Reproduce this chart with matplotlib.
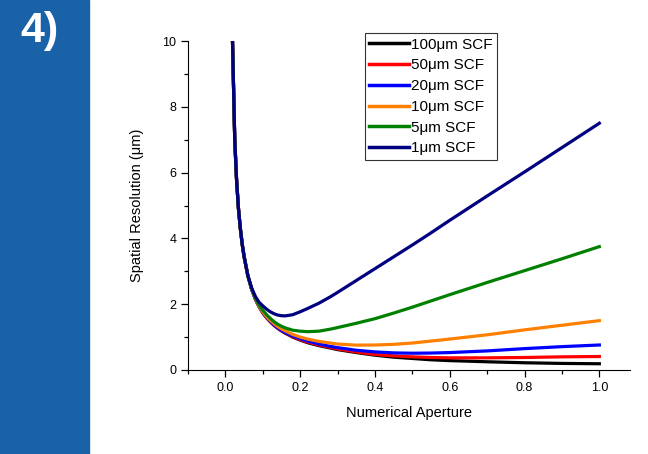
import matplotlib as mpl
mpl.use('Agg')
import matplotlib.pyplot as plt
from matplotlib.ticker import MultipleLocator
from matplotlib.patches import Rectangle

plt.rcParams['font.family'] = ['Liberation Sans', 'DejaVu Sans']

# numerical aperture values
na = [0.019, 0.025, 0.03, 0.035, 0.04, 0.045, 0.05, 0.06, 0.07, 0.08, 0.09,
      0.10, 0.11, 0.12, 0.13, 0.14, 0.15, 0.16, 0.18, 0.20, 0.22, 0.25,
      0.28, 0.30, 0.35, 0.40, 0.45, 0.50, 0.55, 0.60, 0.70, 0.80, 0.90, 1.00]

# spatial resolution (um) per SCF thickness
res_100 = [10.0, 7.0, 5.75, 4.9, 4.3, 3.82, 3.45, 2.87, 2.46, 2.16, 1.93,
           1.74, 1.59, 1.47, 1.36, 1.27, 1.19, 1.12, 1.0, 0.91, 0.83, 0.74,
           0.67, 0.62, 0.53, 0.45, 0.39, 0.35, 0.31, 0.285, 0.25, 0.22, 0.20, 0.19]
res_50 = [10.0, 7.0, 5.75, 4.9, 4.3, 3.82, 3.45, 2.87, 2.46, 2.16, 1.93,
          1.74, 1.59, 1.47, 1.36, 1.27, 1.19, 1.13, 1.01, 0.92, 0.85, 0.76,
          0.69, 0.64, 0.55, 0.47, 0.43, 0.40, 0.38, 0.37, 0.37, 0.38, 0.40, 0.41]
res_20 = [10.0, 7.0, 5.75, 4.9, 4.3, 3.82, 3.45, 2.87, 2.46, 2.16, 1.93,
          1.75, 1.60, 1.48, 1.37, 1.28, 1.20, 1.14, 1.03, 0.95, 0.88, 0.79,
          0.72, 0.68, 0.60, 0.55, 0.52, 0.51, 0.515, 0.53, 0.58, 0.65, 0.71, 0.76]
res_10 = [10.0, 7.0, 5.75, 4.9, 4.3, 3.82, 3.45, 2.87, 2.47, 2.17, 1.94,
          1.77, 1.62, 1.51, 1.41, 1.32, 1.25, 1.19, 1.08, 1.00, 0.94, 0.87,
          0.82, 0.79, 0.755, 0.76, 0.78, 0.82, 0.88, 0.94, 1.07, 1.22, 1.36, 1.50]
res_5 = [10.0, 7.0, 5.75, 4.9, 4.3, 3.82, 3.45, 2.87, 2.48, 2.19, 1.97,
         1.82, 1.68, 1.57, 1.47, 1.39, 1.33, 1.28, 1.21, 1.18, 1.165, 1.18,
         1.24, 1.29, 1.42, 1.56, 1.73, 1.91, 2.10, 2.29, 2.66, 3.02, 3.38, 3.75]
res_1 = [10.0, 7.0, 5.75, 4.9, 4.3, 3.82, 3.45, 2.87, 2.50, 2.24, 2.06,
         1.95, 1.85, 1.77, 1.71, 1.67, 1.65, 1.645, 1.68, 1.77, 1.87, 2.03,
         2.22, 2.36, 2.72, 3.08, 3.44, 3.80, 4.17, 4.55, 5.29, 6.02, 6.76, 7.50]

labels = ['100μm SCF', '50μm SCF', '20μm SCF', '10μm SCF', '5μm SCF', '1μm SCF']
colors = ['#000000', '#ff0000', '#0000ff', '#ff8000', '#008000', '#000080']
series = [res_100, res_50, res_20, res_10, res_5, res_1]

fig = plt.figure(figsize=(6.48, 4.54), dpi=100)

# blue side panel
fig.patches.append(Rectangle((0, 0), 89 / 648, 1, transform=fig.transFigure,
                             color='#1a62a8', zorder=0))
fig.text(20 / 648, 1 - 31 / 454, '4)', color='white', fontsize=31,
         fontweight='bold', va='center', ha='left')

ax = fig.add_axes([188 / 648, 84 / 454, 442 / 648, 329 / 454])
for y, lab, c in zip(series, labels, colors):
    ax.plot(na, y, color=c, lw=2.3, label=lab, solid_joinstyle='round')

ax.set_xlim(-0.1, 1.082)
ax.set_ylim(0, 10)
ax.spines['top'].set_visible(False)
ax.spines['right'].set_visible(False)
ax.xaxis.set_major_locator(MultipleLocator(0.2))
ax.xaxis.set_minor_locator(MultipleLocator(0.1))
ax.yaxis.set_major_locator(MultipleLocator(2))
ax.yaxis.set_minor_locator(MultipleLocator(1))
ax.tick_params(which='major', length=5, width=0.9, labelsize=9)
ax.tick_params(which='minor', length=3, width=0.9)
ax.set_xticks([0.0, 0.2, 0.4, 0.6, 0.8, 1.0])
ax.set_xticklabels(['0.0', '0.2', '0.4', '0.6', '0.8', '1.0'])

ax.set_xlabel('Numerical Aperture', fontsize=10.5, labelpad=9)
ax.set_ylabel('Spatial Resolution (μm)', fontsize=10.5, labelpad=13)

leg = ax.legend(loc='upper left', bbox_to_anchor=(0.40, 1.024), fontsize=11,
                frameon=True, fancybox=False, handlelength=2.6,
                handletextpad=0.15, labelspacing=0.44, borderpad=0.3,
                borderaxespad=0)
leg.get_frame().set_edgecolor('black')
leg.get_frame().set_linewidth(0.8)
for h in leg.get_lines():
    h.set_linewidth(2.5)

plt.savefig('out.png', dpi=100)
